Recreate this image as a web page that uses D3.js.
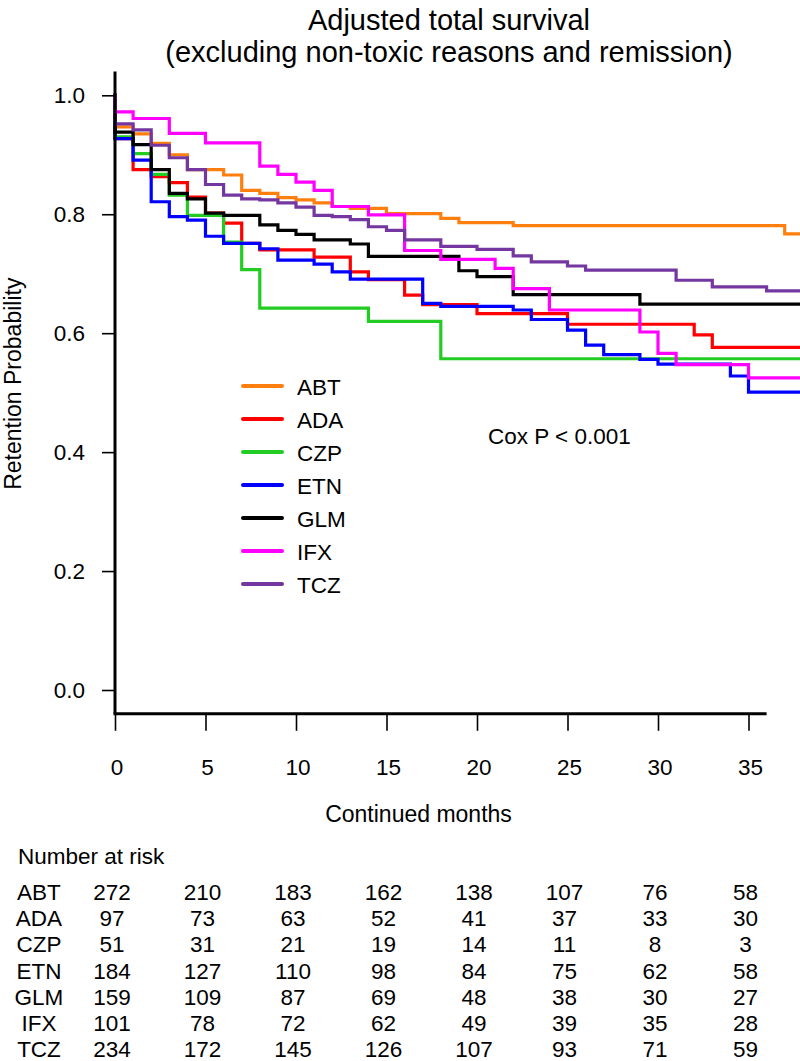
<!DOCTYPE html>
<html>
<head>
<meta charset="utf-8">
<script src="https://cdn.jsdelivr.net/npm/d3@7"></script>
<style>
  html, body { margin: 0; padding: 0; background: #fff; }
  svg { display: block; }
  text { font-family: "Liberation Sans", Arial, sans-serif; fill: #000; }
</style>
</head>
<body>
<div id="chart"></div>
<script>
// ---- data ----
const groups = ["ABT", "ADA", "CZP", "ETN", "GLM", "IFX", "TCZ"];
const groupColors = ["#ff7f0e", "#ff0000", "#22cc22", "#0000ff", "#000000", "#ff00ff", "#7437a0"];

// step times (months) and survival after each step
const abtT = [0, 1, 2, 3, 4, 6, 7, 8, 9, 10, 11, 12, 13, 15, 18, 19, 22, 37];
const abtS = [0.947, 0.935, 0.919, 0.900, 0.875, 0.866, 0.840, 0.835, 0.828, 0.824, 0.819, 0.813, 0.810, 0.801, 0.793, 0.786, 0.781, 0.767];
const adaT = [0, 1, 2, 3, 4, 5, 6, 7, 8, 11, 13, 14, 16, 17, 20, 25, 32, 33];
const adaS = [0.927, 0.875, 0.863, 0.853, 0.829, 0.802, 0.785, 0.751, 0.740, 0.728, 0.703, 0.690, 0.664, 0.648, 0.633, 0.615, 0.597, 0.576];
const czpT = [0, 1, 2, 3, 4, 6, 7, 8, 14, 18];
const czpS = [0.930, 0.902, 0.867, 0.832, 0.798, 0.753, 0.707, 0.642, 0.620, 0.557];
const etnT = [0, 1, 2, 3, 4, 5, 6, 8, 9, 11, 12, 13, 17, 18, 22, 23, 25, 26, 27, 29, 30, 34, 35];
const etnS = [0.927, 0.891, 0.821, 0.796, 0.790, 0.763, 0.751, 0.742, 0.723, 0.716, 0.703, 0.691, 0.650, 0.645, 0.639, 0.623, 0.605, 0.580, 0.564, 0.556, 0.548, 0.528, 0.501];
const glmT = [0, 1, 2, 3, 4, 5, 6, 8, 9, 10, 11, 13, 14, 19, 20, 22, 29];
const glmS = [0.938, 0.917, 0.875, 0.835, 0.826, 0.802, 0.798, 0.782, 0.773, 0.766, 0.757, 0.750, 0.729, 0.705, 0.695, 0.665, 0.649];
const ifxT = [0, 1, 3, 5, 8, 9, 10, 11, 12, 14, 16, 18, 21, 22, 24, 29, 30, 31, 35];
const ifxS = [0.972, 0.961, 0.936, 0.920, 0.881, 0.867, 0.854, 0.840, 0.813, 0.799, 0.739, 0.724, 0.709, 0.675, 0.639, 0.602, 0.566, 0.547, 0.525];
const tczT = [0, 1, 2, 3, 4, 5, 6, 7, 8, 9, 10, 11, 12, 13, 14, 15, 16, 18, 20, 22, 23, 25, 26, 31, 33, 36];
const tczS = [0.952, 0.942, 0.916, 0.895, 0.875, 0.850, 0.832, 0.826, 0.824, 0.819, 0.812, 0.798, 0.796, 0.791, 0.779, 0.773, 0.757, 0.746, 0.741, 0.730, 0.720, 0.713, 0.706, 0.689, 0.678, 0.671];

const seriesT = [abtT, adaT, czpT, etnT, glmT, ifxT, tczT];
const seriesS = [abtS, adaS, czpS, etnS, glmS, ifxS, tczS];
const followUpEnd = 38.6;

const xTicks = [0, 5, 10, 15, 20, 25, 30, 35];
const yTicks = [0.0, 0.2, 0.4, 0.6, 0.8, 1.0];

const riskTimes = [0, 5, 10, 15, 20, 25, 30, 35];
const riskABT = [272, 210, 183, 162, 138, 107, 76, 58];
const riskADA = [97, 73, 63, 52, 41, 37, 33, 30];
const riskCZP = [51, 31, 21, 19, 14, 11, 8, 3];
const riskETN = [184, 127, 110, 98, 84, 75, 62, 58];
const riskGLM = [159, 109, 87, 69, 48, 38, 30, 27];
const riskIFX = [101, 78, 72, 62, 49, 39, 35, 28];
const riskTCZ = [234, 172, 145, 126, 107, 93, 71, 59];
const riskRows = [riskABT, riskADA, riskCZP, riskETN, riskGLM, riskIFX, riskTCZ];

// ---- drawing ----
const W = 800, H = 1061;
const FS = "22.5px";
const svg = d3.select("#chart").append("svg").attr("width", W).attr("height", H);

const x = d3.scaleLinear().domain([0, 36]).range([115, 766.6]);
const y = d3.scaleLinear().domain([0, 1]).range([690, 95.3]);

// title
const title = svg.append("text").attr("text-anchor", "middle").style("font-size", "29px");
title.append("tspan").attr("x", 449).attr("y", 30).text("Adjusted total survival");
title.append("tspan").attr("x", 449).attr("y", 62).text("(excluding non-toxic reasons and remission)");

// curves
const line = d3.line().x(d => x(d[0])).y(d => y(d[1])).curve(d3.curveStepAfter);
groups.forEach((g, i) => {
  const pts = [[0, 1]];
  seriesT[i].forEach((t, j) => pts.push([t, seriesS[i][j]]));
  pts.push([followUpEnd, seriesS[i][seriesS[i].length - 1]]);
  svg.append("path").datum(pts)
    .attr("d", line)
    .attr("fill", "none")
    .attr("stroke", groupColors[i])
    .attr("stroke-width", 3.2)
    .attr("stroke-linejoin", "miter")
    .attr("stroke-linecap", "square");
});

// y axis
const yAxis = svg.append("g").attr("transform", `translate(${x(0)},0)`)
  .call(d3.axisLeft(y).tickValues(yTicks).tickFormat(d3.format(".1f")).tickSize(13).tickPadding(17));
yAxis.select(".domain").remove();
yAxis.selectAll(".tick line").attr("stroke", "#000").attr("stroke-width", 1.6);
yAxis.selectAll(".tick text").style("font-size", FS).attr("font-family", null);

// x axis
const xAxis = svg.append("g").attr("transform", `translate(0,${y(-0.04)})`)
  .call(d3.axisBottom(x).tickValues(xTicks).tickSize(17).tickPadding(0));
xAxis.select(".domain").remove();
xAxis.selectAll(".tick line").attr("stroke", "#000").attr("stroke-width", 1.6);
xAxis.selectAll(".tick text").style("font-size", FS).attr("font-family", null)
  .attr("x", 1.5).attr("y", 61).attr("dy", 0);

// axis lines (L box)
svg.append("line").attr("x1", x(0)).attr("x2", x(0)).attr("y1", y(1.04)).attr("y2", y(-0.04))
  .attr("stroke", "#000").attr("stroke-width", 3);
svg.append("line").attr("x1", x(0) - 1.5).attr("x2", x(36)).attr("y1", y(-0.04)).attr("y2", y(-0.04))
  .attr("stroke", "#000").attr("stroke-width", 3);

// axis titles
svg.append("text").attr("transform", `translate(21,${y(0.515)}) rotate(-90)`)
  .attr("text-anchor", "middle").style("font-size", "23px").text("Retention Probability");
svg.append("text").attr("x", 418.5).attr("y", 822).attr("text-anchor", "middle")
  .style("font-size", "23px").text("Continued months");

// legend
const legend = svg.append("g");
groups.forEach((g, i) => {
  const cy = 386 + i * 33;
  legend.append("line").attr("x1", 243).attr("x2", 282).attr("y1", cy).attr("y2", cy)
    .attr("stroke", groupColors[i]).attr("stroke-width", 4).attr("stroke-linecap", "round");
  legend.append("text").attr("x", 297).attr("y", cy + 8.5).style("font-size", FS).text(g);
});

svg.append("text").attr("x", 488).attr("y", 444).style("font-size", FS).text("Cox P < 0.001");

// number at risk table
svg.append("text").attr("x", 18).attr("y", 864).style("font-size", FS).text("Number at risk");
groups.forEach((g, i) => {
  const by = 900 + i * 26.2;
  svg.append("text").attr("x", 39).attr("y", by).attr("text-anchor", "middle")
    .style("font-size", FS).text(g);
  riskRows[i].forEach((n, j) => {
    svg.append("text").attr("x", x(riskTimes[j]) - 3).attr("y", by).attr("text-anchor", "middle")
      .style("font-size", FS).text(n);
  });
});
</script>
</body>
</html>
